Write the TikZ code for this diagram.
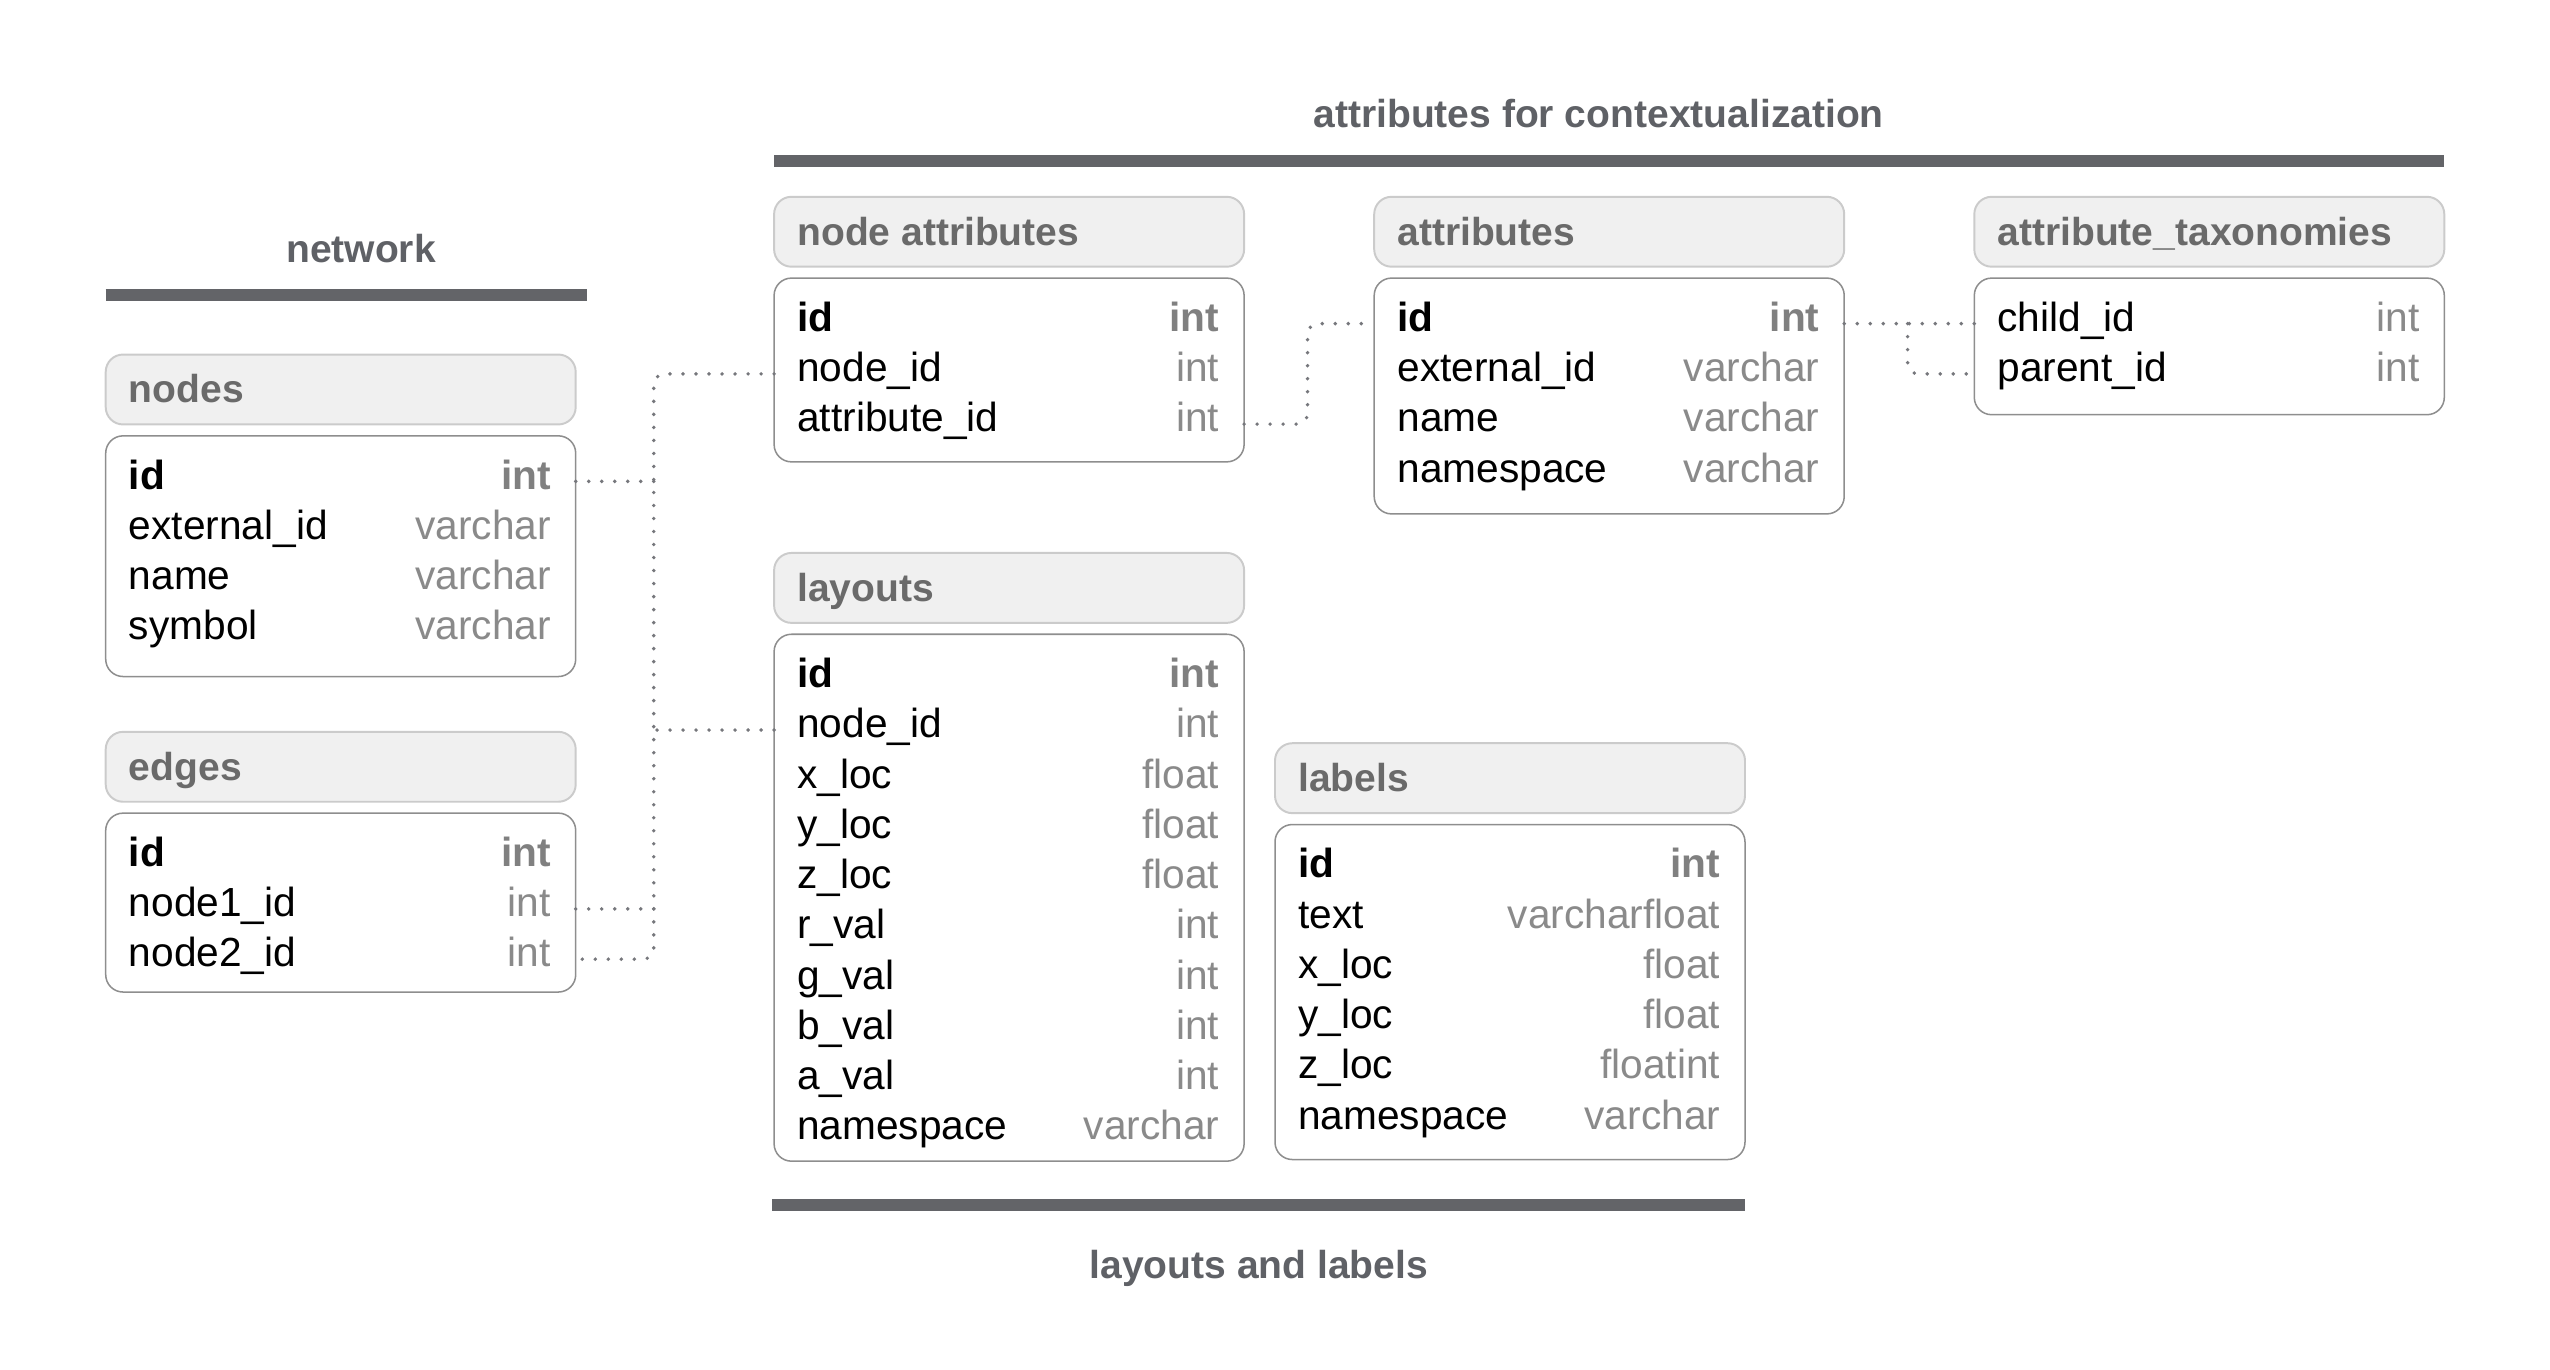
\documentclass[tikz,border=0pt]{standalone}
\usepackage{fontspec}
\setmainfont{Liberation Sans}
\definecolor{barc}{HTML}{636468}
\definecolor{ttlc}{HTML}{5F6166}
\definecolor{hdrfill}{HTML}{F0F0F0}
\definecolor{hdrline}{HTML}{CBCBCB}
\definecolor{hdrtext}{HTML}{6A6A6A}
\definecolor{bodyline}{HTML}{8E8E8E}
\definecolor{typetext}{HTML}{8A8A8A}
\definecolor{dotc}{HTML}{76777C}
\tikzset{
  hdrbox/.style={draw=hdrline, fill=hdrfill, line width=0.9pt, rounded corners=8pt,
    minimum width=216.75pt, minimum height=32.25pt, inner sep=0pt, outer sep=0pt, anchor=north west},
  bodybox/.style={draw=bodyline, fill=white, line width=0.7pt, rounded corners=8pt,
    minimum width=216.75pt, inner sep=0pt, outer sep=0pt, anchor=north west},
  hdrtxt/.style={font=\fontsize{18}{20}\selectfont\bfseries, text=hdrtext, anchor=west,
    inner sep=0pt, text height=0.716em, text depth=0pt},
  fld/.style={font=\fontsize{18.75}{22}\selectfont, text=black, anchor=west,
    inner sep=0pt, text height=0.716em, text depth=0pt},
  fldkey/.style={fld, font=\fontsize{18.75}{22}\selectfont\bfseries},
  typ/.style={font=\fontsize{18.75}{22}\selectfont, text=typetext, anchor=east,
    inner sep=0pt, text height=0.716em, text depth=0pt},
  typkey/.style={typ, font=\fontsize{18.75}{22}\selectfont\bfseries, text=hdrtext!85!white},
  grptitle/.style={font=\fontsize{18}{20}\selectfont\bfseries, text=ttlc,
    inner sep=0pt, text height=0.716em, text depth=0pt},
  grpbar/.style={line width=5.4pt, draw=barc},
  conn/.style={draw=dotc, line width=1.8pt, line cap=round, dash pattern=on 0pt off 6pt,
    rounded corners=5pt},
}
\newcommand\dbtable[6]{%
  \node[hdrbox] (#1-h) at (#2,#3) {};
  \node[hdrtxt] (#1-t) at ([xshift=10.5pt, yshift=-2.6pt]#1-h.west) {#6};
  \node[bodybox, minimum height=#5*0.75pt] (#1-b) at (#2,#4) {};
}
\newcommand\dbrow[6]{%
  \pgfmathsetmacro\ry{28+30.9*(#2-1)}%
  \node[#3] (#1-f#2) at ([xshift=10.5pt, yshift=-\ry*0.75pt]#1-b.north west) {#4};
  \node[#5] (#1-y#2) at ([xshift=-11.25pt, yshift=-\ry*0.75pt]#1-b.north east) {#6};
}
\begin{document}
\begin{tikzpicture}[x=0.75pt, y=-0.75pt]
\useasboundingbox (0,0) rectangle (1568,842.4);
% group titles and bars
\node[grptitle] (g-net) at (222,156.5) {network};
\draw[grpbar] (65,181.5) -- (361,181.5);
\node[grptitle] (g-att) at (983,73.5) {attributes for contextualization};
\draw[grpbar] (476,99) -- (1503,99);
\node[grptitle] (g-lay) at (774,781.5) {layouts and labels};
\draw[grpbar] (475,741) -- (1073,741);
% tables
\dbtable{n}{65}{218}{268}{148}{nodes}
\dbrow{n}{1}{fldkey}{id}{typkey}{int}
\dbrow{n}{2}{fld}{external\_id}{typ}{varchar}
\dbrow{n}{3}{fld}{name}{typ}{varchar}
\dbrow{n}{4}{fld}{symbol}{typ}{varchar}
\dbtable{e}{65}{450}{500}{110}{edges}
\dbrow{e}{1}{fldkey}{id}{typkey}{int}
\dbrow{e}{2}{fld}{node1\_id}{typ}{int}
\dbrow{e}{3}{fld}{node2\_id}{typ}{int}
\dbtable{na}{476}{121}{171}{113}{node attributes}
\dbrow{na}{1}{fldkey}{id}{typkey}{int}
\dbrow{na}{2}{fld}{node\_id}{typ}{int}
\dbrow{na}{3}{fld}{attribute\_id}{typ}{int}
\dbtable{l}{476}{340}{390}{324}{layouts}
\dbrow{l}{1}{fldkey}{id}{typkey}{int}
\dbrow{l}{2}{fld}{node\_id}{typ}{int}
\dbrow{l}{3}{fld}{x\_loc}{typ}{float}
\dbrow{l}{4}{fld}{y\_loc}{typ}{float}
\dbrow{l}{5}{fld}{z\_loc}{typ}{float}
\dbrow{l}{6}{fld}{r\_val}{typ}{int}
\dbrow{l}{7}{fld}{g\_val}{typ}{int}
\dbrow{l}{8}{fld}{b\_val}{typ}{int}
\dbrow{l}{9}{fld}{a\_val}{typ}{int}
\dbrow{l}{10}{fld}{namespace}{typ}{varchar}
\dbtable{a}{845}{121}{171}{145}{attributes}
\dbrow{a}{1}{fldkey}{id}{typkey}{int}
\dbrow{a}{2}{fld}{external\_id}{typ}{varchar}
\dbrow{a}{3}{fld}{name}{typ}{varchar}
\dbrow{a}{4}{fld}{namespace}{typ}{varchar}
\dbtable{at}{1214}{121}{171}{84}{attribute\_taxonomies}
\dbrow{at}{1}{fld}{child\_id}{typ}{int}
\dbrow{at}{2}{fld}{parent\_id}{typ}{int}
\dbtable{lb}{784}{457}{507}{206}{labels}
\dbrow{lb}{1}{fldkey}{id}{typkey}{int}
\dbrow{lb}{2}{fld}{text}{typ}{varcharfloat}
\dbrow{lb}{3}{fld}{x\_loc}{typ}{float}
\dbrow{lb}{4}{fld}{y\_loc}{typ}{float}
\dbrow{lb}{5}{fld}{z\_loc}{typ}{floatint}
\dbrow{lb}{6}{fld}{namespace}{typ}{varchar}
% connectors
\coordinate (tr) at (402,0);
\draw[conn] (na-b.west |- na-f2) -- (tr |- na-f2) -- (tr |- e-f3) -- (e-b.east |- e-f3);
\draw[conn] (n-b.east |- n-f1) -- (tr |- n-f1);
\draw[conn] (l-b.west |- l-f2) -- (tr |- l-f2);
\draw[conn] (e-b.east |- e-f2) -- (tr |- e-f2);
\coordinate (tr2) at (804,0);
\draw[conn] (na-b.east |- na-f3) -- (tr2 |- na-f3) -- (tr2 |- a-f1) -- (a-b.west |- a-f1);
\coordinate (tr3) at (1173,0);
\draw[conn] (a-b.east |- a-f1) -- (at-b.west |- at-f1);
\draw[conn] (tr3 |- at-f1) -- (tr3 |- at-f2) -- (at-b.west |- at-f2);
\end{tikzpicture}
\end{document}
